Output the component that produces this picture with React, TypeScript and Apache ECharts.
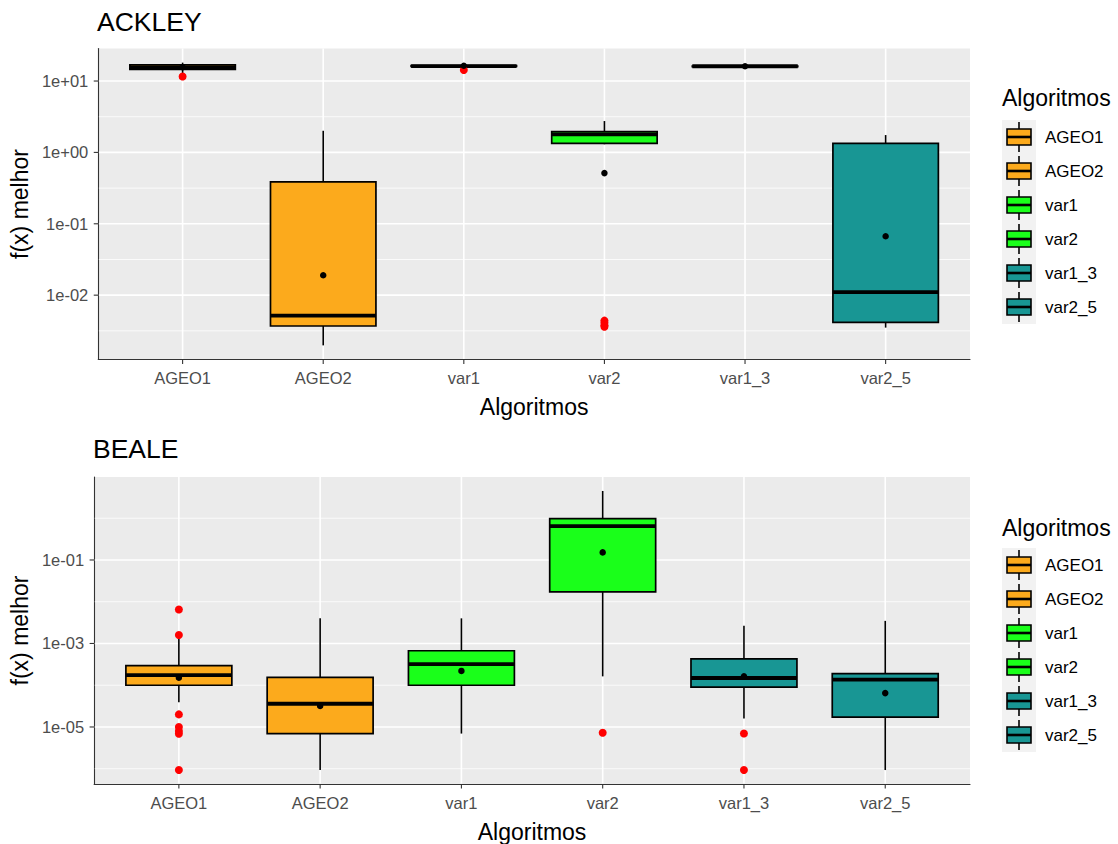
import { useEffect, useRef } from 'react';
import * as echarts from 'echarts';

const FONT = '"Liberation Sans", Arial, Helvetica, sans-serif';

const categories = ['AGEO1', 'AGEO2', 'var1', 'var2', 'var1_3', 'var2_5'];
const boxFill = ['#FCAA1C', '#FCAA1C', '#1AFF1A', '#1AFF1A', '#189694', '#189694'];

// ACKLEY: five-number summaries, means and outliers per algorithm
const ackleyLow = [12.9, 0.00198, 15.2, 1.3, 15.8, 0.00351];
const ackleyQ1 = [14.5, 0.0037, 16.0, 1.34, 15.95, 0.00417];
const ackleyMedian = [15.6, 0.00518, 16.2, 1.79, 16.1, 0.011];
const ackleyQ3 = [16.9, 0.387, 16.4, 1.95, 16.25, 1.34];
const ackleyHigh = [18.1, 2.01, 17.0, 2.75, 16.5, 1.75];
const ackleyMean = [15.6, 0.019, 16.4, 0.513, 16.1, 0.067];
const ackleyOutliers = [[11.6], [], [14.3], [0.0044, 0.0041, 0.0038, 0.0036], [], []];
const ackleyTickLabels = ['1e-02', '1e-01', '1e+00', '1e+01'];
const ackleyMinorGrid = [0.00316, 0.0316, 0.316, 3.16];

// BEALE: five-number summaries, means and outliers per algorithm
const bealeLow = [3.9e-5, 9.3e-7, 6.95e-6, 1.63e-4, 1.6e-5, 9.3e-7];
const bealeQ1 = [1.0e-4, 6.95e-6, 1.0e-4, 0.0173, 8.97e-5, 1.72e-5];
const bealeMedian = [1.75e-4, 3.6e-5, 3.2e-4, 0.646, 1.49e-4, 1.36e-4];
const bealeQ3 = [2.96e-4, 1.55e-4, 6.7e-4, 0.98, 4.27e-4, 1.89e-4];
const bealeHigh = [1.3e-3, 4.0e-3, 4.0e-3, 4.5, 2.65e-3, 3.48e-3];
const bealeMean = [1.52e-4, 3.2e-5, 2.2e-4, 0.152, 1.63e-4, 6.47e-5];
const bealeOutliers = [
  [6.5e-3, 1.6e-3, 2.0e-5, 1.0e-5, 8.0e-6, 6.9e-6, 9.3e-7],
  [],
  [],
  [7.3e-6],
  [7.0e-6, 9.3e-7],
  [],
];
const bealeTickLabels = ['1e-05', '1e-03', '1e-01'];
const bealeMinorGrid = [1e-6, 1e-4, 1e-2, 1];

const BOX_WIDTH = 0.75;
const X_MIN = 0.4;
const X_MAX = categories.length + 0.6;
const TICK_LEN = 4.5;
const AXIS_COLOR = '#333333';
const lg = (v: number) => Math.log10(v);

interface Panel {
  title: string;
  low: number[];
  q1: number[];
  median: number[];
  q3: number[];
  high: number[];
  mean: number[];
  outliers: number[][];
  tickLabels: string[];
  minorGrid: number[];
  grid: { left: number; top: number; width: number; height: number };
  titleX: number;
  titleY: number;
  nameGap: number;
  legendTitleY: number;
  legendTop: number;
}

const panels: Panel[] = [
  {
    title: 'ACKLEY',
    low: ackleyLow,
    q1: ackleyQ1,
    median: ackleyMedian,
    q3: ackleyQ3,
    high: ackleyHigh,
    mean: ackleyMean,
    outliers: ackleyOutliers,
    tickLabels: ackleyTickLabels,
    minorGrid: ackleyMinorGrid,
    grid: { left: 97, top: 48.5, width: 873, height: 311 },
    titleX: 97,
    titleY: 22,
    nameGap: 60,
    legendTitleY: 97.5,
    legendTop: 120,
  },
  {
    title: 'BEALE',
    low: bealeLow,
    q1: bealeQ1,
    median: bealeMedian,
    q3: bealeQ3,
    high: bealeHigh,
    mean: bealeMean,
    outliers: bealeOutliers,
    tickLabels: bealeTickLabels,
    minorGrid: bealeMinorGrid,
    grid: { left: 93, top: 477, width: 877, height: 311 },
    titleX: 93,
    titleY: 449,
    nameGap: 56,
    legendTitleY: 528,
    legendTop: 548,
  },
];

// box, whiskers and a heavy median bar for one algorithm
const renderBox = (params: any, api: any) => {
  const x = api.value(0);
  const [cx, yLow] = api.coord([x, api.value(1)]);
  const yQ1 = api.coord([x, api.value(2)])[1];
  const yMed = api.coord([x, api.value(3)])[1];
  const yQ3 = api.coord([x, api.value(4)])[1];
  const yHigh = api.coord([x, api.value(5)])[1];
  const half = api.size([BOX_WIDTH, 0])[0] / 2;
  return {
    type: 'group',
    children: [
      { type: 'line', shape: { x1: cx, y1: yHigh, x2: cx, y2: yQ3 }, style: { stroke: '#000', lineWidth: 1.6 } },
      { type: 'line', shape: { x1: cx, y1: yQ1, x2: cx, y2: yLow }, style: { stroke: '#000', lineWidth: 1.6 } },
      {
        type: 'rect',
        shape: { x: cx - half, y: yQ3, width: 2 * half, height: yQ1 - yQ3 },
        style: { fill: boxFill[params.dataIndex], stroke: '#000', lineWidth: 1.7 },
      },
      { type: 'line', shape: { x1: cx - half, y1: yMed, x2: cx + half, y2: yMed }, style: { stroke: '#000', lineWidth: 3.8 } },
    ],
  };
};

// horizontal grid line (major or minor) plus an outside tick for major ones
const renderYGuide = (_params: any, api: any) => {
  const v = api.value(1);
  const [xl, y] = api.coord([X_MIN, v]);
  const xr = api.coord([X_MAX, v])[0];
  const major = api.value(2) === 1;
  const children: any[] = [
    { type: 'line', shape: { x1: xl + 0.6, y1: y, x2: xr, y2: y }, style: { stroke: '#FFFFFF', lineWidth: major ? 1.6 : 0.8 } },
  ];
  if (major) {
    children.push({ type: 'line', shape: { x1: xl - TICK_LEN, y1: y, x2: xl, y2: y }, style: { stroke: AXIS_COLOR, lineWidth: 1.1 } });
  }
  return { type: 'group', children };
};

// vertical grid line at each category plus its tick below the axis
const makeXGuide = (yMin: number, yMax: number) => (_params: any, api: any) => {
  const x = api.value(0);
  const [cx, yb] = api.coord([x, yMin]);
  const yt = api.coord([x, yMax])[1];
  return {
    type: 'group',
    children: [
      { type: 'line', shape: { x1: cx, y1: yt, x2: cx, y2: yb - 0.6 }, style: { stroke: '#FFFFFF', lineWidth: 1.6 } },
      { type: 'line', shape: { x1: cx, y1: yb, x2: cx, y2: yb + TICK_LEN }, style: { stroke: AXIS_COLOR, lineWidth: 1.1 } },
    ],
  };
};

const expLabel = (labels: string[]) => (v: number) => {
  const hit = labels.find((l) => Math.abs(lg(Number(l)) - v) < 1e-6);
  return hit ?? '';
};

function buildOption() {
  const grids: any[] = [];
  const xAxes: any[] = [];
  const yAxes: any[] = [];
  const series: any[] = [];
  const graphics: any[] = [];
  const xPositions = categories.map((_, k) => k + 1);

  panels.forEach((p, i) => {
    const all = [...p.low, ...p.high, ...p.outliers.flat()];
    const lmin = lg(Math.min(...all));
    const lmax = lg(Math.max(...all));
    const pad = (lmax - lmin) * 0.05;
    const yMin = lmin - pad;
    const yMax = lmax + pad;

    grids.push({ ...p.grid, show: true, backgroundColor: '#EBEBEB', borderWidth: 0, containLabel: false });

    xAxes.push({
      type: 'value',
      gridIndex: i,
      min: X_MIN,
      max: X_MAX,
      name: 'Algoritmos',
      nameLocation: 'middle',
      nameGap: 36,
      nameTextStyle: { color: '#000', fontSize: 23, fontFamily: FONT },
      axisLine: { show: true, onZero: false, lineStyle: { color: AXIS_COLOR, width: 1.1 } },
      axisTick: { show: false },
      axisLabel: {
        customValues: xPositions,
        formatter: (v: number) => (Math.abs(v - Math.round(v)) < 1e-6 ? categories[Math.round(v) - 1] ?? '' : ''),
        color: '#4D4D4D',
        fontSize: 16.5,
        fontFamily: FONT,
        margin: 10,
      },
      splitLine: { show: false },
    });

    const tickPos = p.tickLabels.map((l) => lg(Number(l)));
    yAxes.push({
      type: 'value',
      gridIndex: i,
      min: yMin,
      max: yMax,
      name: 'f(x) melhor',
      nameLocation: 'middle',
      nameRotate: 90,
      nameGap: p.nameGap,
      nameTextStyle: { color: '#000', fontSize: 23, fontFamily: FONT },
      axisLine: { show: true, onZero: false, lineStyle: { color: AXIS_COLOR, width: 1.1 } },
      axisTick: { show: false },
      axisLabel: {
        customValues: tickPos,
        formatter: expLabel(p.tickLabels),
        color: '#4D4D4D',
        fontSize: 16.5,
        fontFamily: FONT,
        margin: 10,
      },
      splitLine: { show: false },
    });

    series.push({
      type: 'custom',
      xAxisIndex: i,
      yAxisIndex: i,
      z: 1,
      silent: true,
      clip: false,
      renderItem: renderYGuide,
      encode: { x: 0, y: 1 },
      data: [
        ...p.minorGrid.map((v) => [X_MIN, lg(v), 0]),
        ...tickPos.map((v) => [X_MIN, v, 1]),
      ],
    });

    series.push({
      type: 'custom',
      xAxisIndex: i,
      yAxisIndex: i,
      z: 1,
      silent: true,
      clip: false,
      renderItem: makeXGuide(yMin, yMax),
      encode: { x: 0, y: 1 },
      data: xPositions.map((x) => [x, yMin]),
    });

    series.push({
      type: 'custom',
      name: p.title,
      xAxisIndex: i,
      yAxisIndex: i,
      z: 2,
      renderItem: renderBox,
      encode: { x: 0, y: [1, 2, 3, 4, 5] },
      data: categories.map((_, k) => [k + 1, lg(p.low[k]), lg(p.q1[k]), lg(p.median[k]), lg(p.q3[k]), lg(p.high[k])]),
    });

    series.push({
      type: 'scatter',
      xAxisIndex: i,
      yAxisIndex: i,
      z: 3,
      symbolSize: 8,
      itemStyle: { color: '#FF0000', opacity: 1 },
      data: p.outliers.flatMap((vals, k) => vals.map((v) => [k + 1, lg(v)])),
    });

    series.push({
      type: 'scatter',
      xAxisIndex: i,
      yAxisIndex: i,
      z: 4,
      symbolSize: 6.5,
      itemStyle: { color: '#000000', opacity: 1 },
      data: p.mean.map((v, k) => [k + 1, lg(v)]),
    });

    graphics.push({
      type: 'text',
      x: p.titleX,
      y: p.titleY,
      style: { text: p.title, fontSize: 26.5, fontFamily: FONT, fill: '#000', textVerticalAlign: 'middle', verticalAlign: 'middle' },
    });

    // legend
    const keyH = 34;
    graphics.push({
      type: 'text',
      x: 1002,
      y: p.legendTitleY,
      style: { text: 'Algoritmos', fontSize: 23, fontFamily: FONT, fill: '#000', textVerticalAlign: 'middle', verticalAlign: 'middle' },
    });
    graphics.push({
      type: 'rect',
      shape: { x: 1002, y: p.legendTop, width: 34, height: keyH * categories.length },
      style: { fill: '#F2F2F2' },
    });
    categories.forEach((c, k) => {
      const cy = p.legendTop + keyH * k + keyH / 2;
      graphics.push({ type: 'line', shape: { x1: 1019, y1: cy - 15, x2: 1019, y2: cy + 15 }, style: { stroke: '#000', lineWidth: 1.6 } });
      graphics.push({
        type: 'rect',
        shape: { x: 1007, y: cy - 8, width: 24, height: 16 },
        style: { fill: boxFill[k], stroke: '#000', lineWidth: 1.6 },
      });
      graphics.push({ type: 'line', shape: { x1: 1007, y1: cy, x2: 1031, y2: cy }, style: { stroke: '#000', lineWidth: 2.6 } });
      graphics.push({
        type: 'text',
        x: 1045,
        y: cy,
        style: { text: c, fontSize: 17, fontFamily: FONT, fill: '#000', textVerticalAlign: 'middle', verticalAlign: 'middle' },
      });
    });
  });

  return {
    animation: false,
    backgroundColor: '#FFFFFF',
    grid: grids,
    xAxis: xAxes,
    yAxis: yAxes,
    series,
    graphic: { elements: graphics },
  };
}

export default function App() {
  const ref = useRef<HTMLDivElement>(null);
  useEffect(() => {
    if (!ref.current) return;
    const chart = echarts.init(ref.current, undefined, { renderer: 'svg' });
    chart.setOption(buildOption() as any);
    return () => chart.dispose();
  }, []);
  return <div ref={ref} style={{ position: 'fixed', left: 0, top: 0, width: 1118, height: 844 }} />;
}
